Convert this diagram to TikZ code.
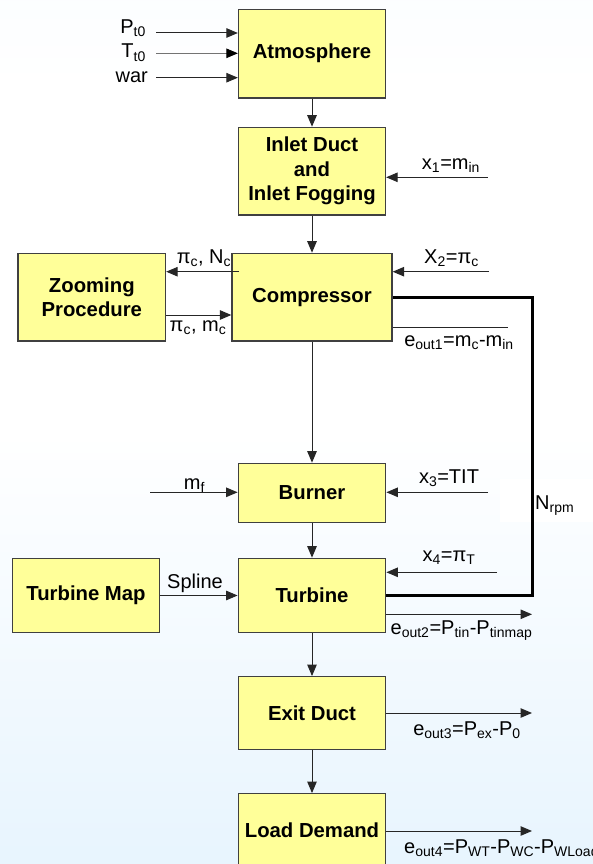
\documentclass[tikz,border=0pt]{standalone}
\usepackage{fontspec}
\setmainfont{Liberation Sans}
\usetikzlibrary{arrows.meta, positioning}

\definecolor{boxfill}{RGB}{255,255,153}
\definecolor{boxline}{RGB}{64,64,64}
\definecolor{bgtop}{RGB}{236,246,254}
\definecolor{bgbot}{RGB}{208,234,253}
\pgfdeclareverticalshading{bgshade}{100bp}{color(0bp)=(bgbot); color(50bp)=(white); color(70bp)=(white); color(100bp)=(bgtop)}

\begin{document}
\begin{tikzpicture}[
            x=1pt, y=-1pt,
            >={Triangle[length=11.5pt,width=9.5pt]},
            font=\fontsize{20}{25}\selectfont,
            block/.style={draw=boxline, line width=1.3pt, fill=boxfill,
                font=\fontsize{20.3}{24.5}\selectfont\bfseries, align=center, inner sep=0pt},
            sig/.style={->, line width=1pt, draw=black!85},
            plain/.style={line width=1pt, draw=black!85},
            feed/.style={line width=3pt, draw=black},
            lbl/.style={inner sep=0pt}
        ]

        % Background
        \useasboundingbox (0,0) rectangle (593,864);
        \shade[shading=bgshade] (0,0) rectangle (593,864);

        % Define blocks
        \node[block, minimum width=147pt, minimum height=88.7pt] (atm) at (312,53.7) {Atmosphere};
        \node[block, minimum width=147pt, minimum height=87.7pt] (inlet) at (312,171.2) {Inlet Duct\\and\\Inlet Fogging};
        \node[block, minimum width=160pt, minimum height=87.7pt] (comp) at (312,297.2) {Compressor};
        \node[block, minimum width=147.5pt, minimum height=87.7pt] (zoomp) at (91.8,297.2) {Zooming\\Procedure};
        \node[block, minimum width=147.5pt, minimum height=59pt] (burner) at (312,492.8) {Burner};
        \node[block, minimum width=147.5pt, minimum height=74.4pt] (turb) at (312,595.5) {Turbine};
        \node[block, minimum width=147pt, minimum height=74.4pt] (tmap) at (86,595.5) {Turbine Map};
        \node[block, minimum width=147pt, minimum height=72.6pt] (exit) at (312,713) {Exit Duct};
        \node[block, minimum width=147pt, minimum height=72.6pt] (load) at (312,830) {Load Demand};

        % Free ends
        \coordinate (pin) at (156,33);
        \coordinate (tin) at (156,53.3);
        \coordinate (win) at (156,77.7);
        \coordinate (x1) at (487.7,177.3);
        \coordinate (x2) at (489,271.7);
        \coordinate (x3) at (488,492.3);
        \coordinate (x4) at (497,572.3);
        \coordinate (mfin) at (150,492.3);
        \coordinate (pcn) at (239,271.7);
        \coordinate (pcm) at (0,315);
        \coordinate (rpm) at (532,400);
        \coordinate (e1) at (508,327.3);
        \coordinate (e2) at (532,614.3);
        \coordinate (e3) at (532,713);
        \coordinate (e4) at (532,831);

        % Main flow
        \draw[sig] (atm) -- (inlet);
        \draw[sig] (inlet) -- (comp);
        \draw[sig] (comp) -- (burner);
        \draw[sig] (burner) -- (turb);
        \draw[sig] (turb) -- (exit);
        \draw[sig] (exit) -- (load);

        % Inputs
        \draw[sig] (pin) -- (pin -| atm.west);
        \draw[sig, draw=black!55, -{Triangle[length=11.5pt,width=9.5pt,color=black]}] (tin) -- (tin -| atm.west);
        \draw[sig] (win) -- (win -| atm.west);
        \draw[sig] (x1) -- (x1 -| inlet.east);
        \draw[sig] (x2) -- (x2 -| comp.east);
        \draw[sig] (x3) -- (x3 -| burner.east);
        \draw[sig] (x4) -- (x4 -| turb.east);
        \draw[sig] (mfin) -- (mfin -| burner.west);
        \draw[sig] (pcn) -- (pcn -| zoomp.east);
        \draw[sig] (pcm -| zoomp.east) -- (pcm -| comp.west);
        \draw[sig] (tmap.east) -- (turb.west);

        % Outputs
        \draw[plain] (e1 -| comp.east) -- (e1);
        \draw[sig] (e2 -| turb.east) -- (e2);
        \draw[sig] (exit.east) -- (e3);
        \draw[sig] (e4 -| load.east) -- (e4);

        % Speed feedback
        \fill[white] (500,479) rectangle (593,522.3);
        \draw[feed] (comp.east) -| (rpm) |- (turb.east);

        % Labels
        \node[lbl, anchor=base east] (lpt) at (146,33.3) {P\textsubscript{t0}};
        \node[lbl, anchor=base east] (ltt) at (146,58) {T\textsubscript{t0}};
        \node[lbl, anchor=base east] (lwar) at (148,83) {war};
        \node[lbl, anchor=base] (lx1) at (451,169.3) {x\textsubscript{1}=m\textsubscript{in}};
        \node[lbl, anchor=base] (lx2) at (451.5,263) {X\textsubscript{2}=π\textsubscript{c}};
        \node[lbl, anchor=base] (lpcn) at (204,263.3) {π\textsubscript{c}, N\textsubscript{c}};
        \node[lbl, anchor=base] (lpcm) at (198,331.7) {π\textsubscript{c}, m\textsubscript{c}};
        \node[lbl, anchor=base] (le1) at (459,346.7) {e\textsubscript{out1}=m\textsubscript{c}-m\textsubscript{in}};
        \node[lbl, anchor=base] (lmf) at (194.5,489) {m\textsubscript{f}};
        \node[lbl, anchor=base] (lx3) at (449,483.3) {x\textsubscript{3}=TIT};
        \node[lbl, anchor=base west] (lrpm) at (535,509.5) {N\textsubscript{rpm}};
        \node[lbl, anchor=base] (lspl) at (195,588.3) {Spline};
        \node[lbl, anchor=base] (lx4) at (449,561.7) {x\textsubscript{4}=π\textsubscript{T}};
        \node[lbl, anchor=base] (le2) at (461.5,634) {e\textsubscript{out2}=P\textsubscript{tin}-P\textsubscript{tinmap}};
        \node[lbl, anchor=base] (le3) at (467,735) {e\textsubscript{out3}=P\textsubscript{ex}-P\textsubscript{0}};
        \node[lbl, anchor=base west] (le4) at (404,853.3) {e\textsubscript{out4}=P\textsubscript{WT}-P\textsubscript{WC}-P\textsubscript{WLoad}};
        \end{tikzpicture}
\end{document}
